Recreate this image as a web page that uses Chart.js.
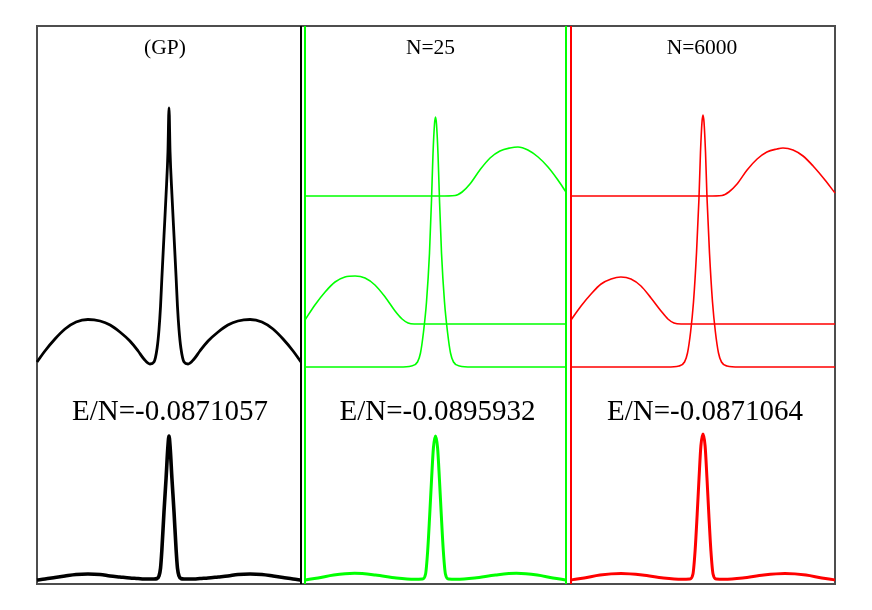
<!DOCTYPE html>
<html>
<head>
<meta charset="utf-8">
<script src="https://cdn.jsdelivr.net/npm/chart.js@4.4.0/dist/chart.umd.min.js"></script>
<style>
  body { margin: 0; background: #fff; }
  #wrap { position: relative; width: 872px; height: 610px; }
  #frame { position: absolute; left: 36px; top: 25px; width: 800px; height: 560px; box-sizing: border-box; border: 2px solid #4d4d4d; }
  canvas { position: absolute; }
</style>
</head>
<body>
<div id="wrap">
  <div id="frame"></div>
  <canvas id="gp" width="272" height="566" style="left:33px;top:22px"></canvas>
  <canvas id="n25" width="269" height="566" style="left:301px;top:22px"></canvas>
  <canvas id="n6000" width="272" height="566" style="left:567px;top:22px"></canvas>
</div>
<script>
// position inside one cell, -0.5 .. 0.5
var yMin = 0, yMax = 5.58;

// (GP) panel
var gpX = [-0.5, -0.47, -0.432, -0.394, -0.352, -0.307, -0.261, -0.223, -0.186, -0.148, -0.117, -0.095, -0.072, -0.057, -0.045, -0.038, -0.032, -0.027, -0.019, -0.011, -0.004, 0,
           0.004, 0.011, 0.019, 0.027, 0.032, 0.038, 0.045, 0.057, 0.072, 0.095, 0.117, 0.148, 0.186, 0.223, 0.261, 0.307, 0.352, 0.394, 0.432, 0.47, 0.5];
var gpUpper = [2.22, 2.33, 2.45, 2.55, 2.62, 2.645, 2.63, 2.59, 2.52, 2.43, 2.33, 2.25, 2.20, 2.22, 2.36, 2.54, 2.78, 3.06, 3.48, 3.90, 4.32, 4.76,
               4.32, 3.90, 3.48, 3.06, 2.78, 2.54, 2.36, 2.22, 2.20, 2.25, 2.33, 2.43, 2.52, 2.59, 2.63, 2.645, 2.62, 2.55, 2.45, 2.33, 2.22];
var gpLower = [0.04, 0.05, 0.065, 0.08, 0.095, 0.10, 0.095, 0.08, 0.07, 0.06, 0.055, 0.05, 0.05, 0.05, 0.055, 0.08, 0.16, 0.34, 0.72, 1.06, 1.38, 1.48,
               1.38, 1.06, 0.72, 0.34, 0.16, 0.08, 0.055, 0.05, 0.05, 0.05, 0.055, 0.06, 0.07, 0.08, 0.095, 0.10, 0.095, 0.08, 0.065, 0.05, 0.04];

// N=25 panel
var n25PeakX = [-0.5, -0.138, -0.092, -0.069, -0.0575, -0.046, -0.0345, -0.023, -0.0153, -0.0096, -0.0038, 0,
                0.0038, 0.0096, 0.0153, 0.023, 0.0345, 0.046, 0.0575, 0.069, 0.092, 0.138, 0.5];
var n25PeakY = [2.17, 2.17, 2.18, 2.22, 2.31, 2.52, 2.82, 3.31, 3.84, 4.30, 4.60, 4.67,
                4.60, 4.30, 3.84, 3.31, 2.82, 2.52, 2.31, 2.22, 2.18, 2.17, 2.17];
var n25LeftX = [-0.5, -0.462, -0.423, -0.385, -0.347, -0.308, -0.27, -0.232, -0.193, -0.155, -0.128, -0.105, -0.082, -0.021, 0.5];
var n25LeftY = [2.64, 2.79, 2.92, 3.02, 3.07, 3.08, 3.06, 2.99, 2.87, 2.73, 2.65, 2.61, 2.60, 2.60, 2.60];
var n25RightX = [-0.5, 0.017, 0.075, 0.102, 0.132, 0.17, 0.209, 0.247, 0.285, 0.316, 0.354, 0.393, 0.431, 0.469, 0.5];
var n25RightY = [3.88, 3.88, 3.885, 3.92, 4.00, 4.14, 4.26, 4.33, 4.36, 4.37, 4.34, 4.27, 4.17, 4.04, 3.92];

// N=6000 panel
var n6000PeakX = [-0.5, -0.136, -0.091, -0.07, -0.0587, -0.047, -0.036, -0.0246, -0.0152, -0.0095, -0.0038, 0,
                  0.0038, 0.0095, 0.0152, 0.0246, 0.036, 0.047, 0.0587, 0.07, 0.091, 0.136, 0.5];
var n6000PeakY = [2.17, 2.17, 2.18, 2.22, 2.31, 2.52, 2.82, 3.31, 3.86, 4.32, 4.62, 4.69,
                  4.62, 4.32, 3.86, 3.31, 2.82, 2.52, 2.31, 2.22, 2.18, 2.17, 2.17];
var n6000LeftX = [-0.5, -0.462, -0.424, -0.386, -0.348, -0.311, -0.273, -0.235, -0.197, -0.159, -0.133, -0.11, -0.083, -0.023, 0.5];
var n6000LeftY = [2.64, 2.78, 2.90, 3.00, 3.05, 3.07, 3.05, 2.98, 2.86, 2.73, 2.65, 2.61, 2.60, 2.60, 2.60];
var n6000RightX = [-0.5, 0.019, 0.072, 0.098, 0.129, 0.167, 0.205, 0.242, 0.28, 0.303, 0.341, 0.379, 0.417, 0.462, 0.5];
var n6000RightY = [3.88, 3.88, 3.885, 3.92, 4.00, 4.14, 4.25, 4.32, 4.35, 4.36, 4.34, 4.28, 4.18, 4.04, 3.91];

// lower (density) curves of N=25 and N=6000
var lowX = [-0.5, -0.45, -0.39, -0.31, -0.23, -0.15, -0.08, -0.05, -0.038, -0.03, -0.022, -0.015, -0.008, 0,
            0.008, 0.015, 0.022, 0.03, 0.038, 0.05, 0.08, 0.15, 0.23, 0.31, 0.39, 0.45, 0.5];
var n25Lower = [0.04, 0.06, 0.09, 0.107, 0.09, 0.06, 0.047, 0.05, 0.1, 0.33, 0.7, 1.05, 1.36, 1.48,
                1.36, 1.05, 0.7, 0.33, 0.1, 0.05, 0.047, 0.06, 0.09, 0.107, 0.09, 0.06, 0.04];
var n6000Lower = [0.04, 0.06, 0.09, 0.105, 0.09, 0.06, 0.047, 0.05, 0.1, 0.33, 0.7, 1.06, 1.38, 1.50,
                  1.38, 1.06, 0.7, 0.33, 0.1, 0.05, 0.047, 0.06, 0.09, 0.105, 0.09, 0.06, 0.04];

var titles = ['(GP)', 'N=25', 'N=6000'];
var energies = ['E/N=-0.0871057', 'E/N=-0.0895932', 'E/N=-0.0871064'];

function pts(xs, ys) {
    return xs.map(function(x, i) { return {x: x, y: ys[i]}; });
}

function curve(xs, ys, color, width) {
    return { data: pts(xs, ys), borderColor: color, borderWidth: width, clip: false };
}

// vertical edge line of a panel, full height
function edge(x, color) {
    return { data: [{x: x, y: yMin}, {x: x, y: yMax}], borderColor: color, borderWidth: 2,
             clip: false, tension: 0, cubicInterpolationMode: 'default' };
}

var panelText = {
    id: 'panelText',
    afterDatasetsDraw: function(chart, args, opts) {
        var ctx = chart.ctx, area = chart.chartArea;
        var cx = (area.left + area.right) / 2;
        ctx.save();
        ctx.fillStyle = '#000';
        ctx.textAlign = 'center';
        ctx.textBaseline = 'alphabetic';
        ctx.font = '21.5px "Liberation Serif", "Times New Roman", serif';
        ctx.fillText(opts.title, cx + opts.titleShift, area.top + 28);
        ctx.font = '29px "Liberation Serif", "Times New Roman", serif';
        ctx.fillText(opts.energy, cx + opts.energyShift, area.top + 394);
        ctx.restore();
    }
};

function makePanel(id, datasets, idx, titleShift, energyShift) {
    new Chart(document.getElementById(id), {
        type: 'line',
        data: { datasets: datasets },
        options: {
            responsive: false,
            animation: false,
            devicePixelRatio: 1,
            layout: { padding: 4 },
            scales: {
                x: { type: 'linear', min: -0.5, max: 0.5, display: false },
                y: { min: yMin, max: yMax, display: false }
            },
            elements: {
                point: { radius: 0 },
                line: { cubicInterpolationMode: 'monotone' }
            },
            plugins: {
                legend: { display: false },
                tooltip: { enabled: false },
                panelText: { title: titles[idx], energy: energies[idx], titleShift: titleShift, energyShift: energyShift }
            }
        },
        plugins: [panelText]
    });
}

var black = '#000000', green = '#00ff00', red = '#ff0000';

makePanel('gp', [
    curve(gpX, gpUpper, black, 2.8),
    curve(gpX, gpLower, black, 3.6),
    edge(0.5, black)
], 0, -4, 1);

makePanel('n25', [
    curve(n25PeakX, n25PeakY, green, 1.6),
    curve(n25LeftX, n25LeftY, green, 1.6),
    curve(n25RightX, n25RightY, green, 1.6),
    curve(lowX, n25Lower, green, 3),
    edge(-0.5, green),
    edge(0.5, green)
], 1, -5, 2);

makePanel('n6000', [
    curve(n6000PeakX, n6000PeakY, red, 1.6),
    curve(n6000LeftX, n6000LeftY, red, 1.6),
    curve(n6000RightX, n6000RightY, red, 1.6),
    curve(lowX, n6000Lower, red, 3),
    edge(-0.5, red)
], 2, -1, 2);
</script>
</body>
</html>
